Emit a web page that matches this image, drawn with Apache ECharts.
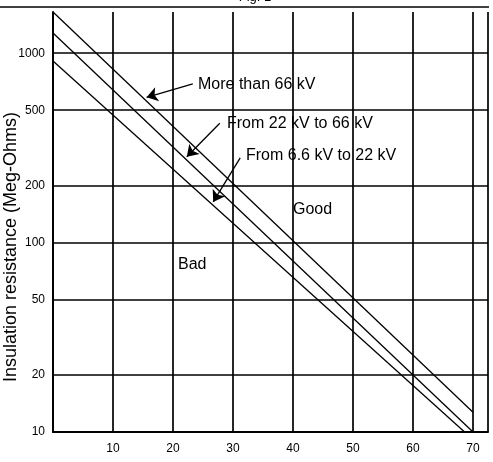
<!DOCTYPE html>
<html>
<head>
<meta charset="utf-8">
<script src="https://cdn.jsdelivr.net/npm/echarts@6/dist/echarts.min.js"></script>
<style>
html,body{margin:0;padding:0;background:#fff;}
#chart{width:493px;height:462px;}
</style>
</head>
<body>
<div id="chart"></div>
<script>
// Straight lines on the log scale: read at their two ends
const xOver66 = [0, 70];
const over66 = [1650, 12.7];
const x22to66 = [0, 70];
const from22to66 = [1277, 10.0];
const x6to22 = [0, 68.6];
const from6to22 = [909, 10];

const yTicks = [10, 20, 50, 100, 200, 500, 1000];
const xTicks = [10, 20, 30, 40, 50, 60, 70];

const seriesNames = ['More than 66 kV', 'From 22 kV to 66 kV', 'From 6.6 kV to 22 kV'];
// arrows: [tailX, tailY, headX, headY] in data units
const arrowOver66 = [23.3, 688, 15.6, 585];
const arrow22to66 = [27.8, 427, 22.3, 284];
const arrow6to22 = [31.2, 280, 26.7, 164];

const axisTitle = 'Insulation resistance (Meg-Ohms)';
const figTitle = 'Fig. 1';

function pairs(xs, ys) { return xs.map((x, i) => [x, ys[i]]); }
function arrow(a) { return [{ coord: [a[0], a[1]] }, { coord: [a[2], a[3]] }]; }

const FONT = 'Liberation Sans, Arial, sans-serif';
const chart = echarts.init(document.getElementById('chart'), null, { renderer: 'canvas' });

const lineStyle = { color: '#000', width: 1.3 };

chart.setOption({
  animation: false,
  backgroundColor: '#fff',
  grid: { left: 53, right: 5, top: 12, bottom: 30, containLabel: false },
  xAxis: {
    type: 'value', min: 0, max: 72.5, interval: 10,
    axisLine: { show: true, lineStyle: { color: '#000', width: 2 } },
    axisTick: { show: false },
    axisLabel: {
      color: '#000', fontFamily: FONT, fontSize: 12, margin: 11,
      showMaxLabel: false,
      formatter: v => (xTicks.indexOf(v) >= 0 ? String(v) : '')
    },
    splitLine: { show: true, lineStyle: { color: '#000', width: 1.7 } }
  },
  yAxis: {
    type: 'log', logBase: 10, min: 10, max: 1650,
    axisLine: { show: true, lineStyle: { color: '#000', width: 2 } },
    axisTick: { show: false, customValues: yTicks },
    axisLabel: { color: '#000', fontFamily: FONT, fontSize: 12, margin: 8, customValues: yTicks, formatter: v => String(Math.round(v)) },
    splitLine: { show: true, lineStyle: { color: '#000', width: 1.7 } }
  },
  series: [
    { name: seriesNames[0], type: 'line', data: pairs(xOver66, over66), symbol: 'none', lineStyle: lineStyle, silent: true },
    { name: seriesNames[1], type: 'line', data: pairs(x22to66, from22to66), symbol: 'none', lineStyle: lineStyle, silent: true },
    { name: seriesNames[2], type: 'line', data: pairs(x6to22, from6to22), symbol: 'none', lineStyle: lineStyle, silent: true },
    {
      name: 'arrows', type: 'line', data: [], silent: true,
      markLine: {
        silent: true, symbol: ['none', 'arrow'], symbolSize: 11,
        label: { show: false },
        lineStyle: { color: '#000', width: 1.3, type: 'solid' },
        data: [arrow(arrowOver66), arrow(arrow22to66), arrow(arrow6to22)]
      }
    }
  ],
  graphic: [
    { type: 'line', shape: { x1: 0, y1: 7, x2: 489, y2: 7 }, style: { stroke: '#000', lineWidth: 1.5 } },
    { type: 'text', x: 255, y: 4, style: { text: figTitle, font: '13px ' + FONT, fill: '#000', textAlign: 'center', textVerticalAlign: 'bottom' } },
    { type: 'text', x: 11, y: 247, rotation: Math.PI / 2, style: { text: axisTitle, font: '18px ' + FONT, fill: '#000', textAlign: 'center', textVerticalAlign: 'middle' } },
    { type: 'text', x: 198, y: 85, style: { text: seriesNames[0], font: '16px ' + FONT, fill: '#000', textAlign: 'left', textVerticalAlign: 'middle' } },
    { type: 'text', x: 227, y: 124, style: { text: seriesNames[1], font: '16px ' + FONT, fill: '#000', textAlign: 'left', textVerticalAlign: 'middle' } },
    { type: 'text', x: 246, y: 156, style: { text: seriesNames[2], font: '16px ' + FONT, fill: '#000', textAlign: 'left', textVerticalAlign: 'middle' } },
    { type: 'text', x: 293, y: 210, style: { text: 'Good', font: '16px ' + FONT, fill: '#000', textAlign: 'left', textVerticalAlign: 'middle' } },
    { type: 'text', x: 178, y: 265, style: { text: 'Bad', font: '16px ' + FONT, fill: '#000', textAlign: 'left', textVerticalAlign: 'middle' } }
  ]
});
</script>
</body>
</html>
